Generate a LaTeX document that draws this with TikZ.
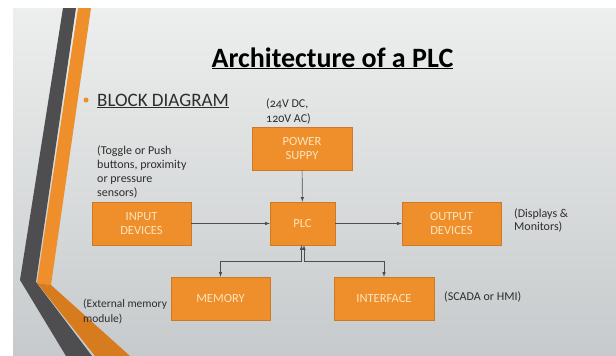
\documentclass[tikz,border=0pt]{standalone}
\usepackage{fontspec}
\setmainfont{Carlito}
\usepackage{tikz}
\definecolor{org}{RGB}{238,143,43}
\definecolor{orgdk}{RGB}{214,124,30}
\definecolor{edge}{RGB}{205,122,37}
\definecolor{cream}{RGB}{252,228,190}
\definecolor{gry}{RGB}{78,78,80}
\definecolor{bgtop}{RGB}{237,239,238}
\definecolor{bgbot}{RGB}{199,202,204}
\definecolor{txt}{RGB}{45,45,45}

\begin{document}
\begin{tikzpicture}[x=1pt,y=-1pt,
  blk/.style={draw=edge,fill=org,text=cream,minimum height=43pt,
    align=center,font=\fontsize{12.5}{14}\selectfont,inner sep=0pt},
  note/.style={text=txt,align=left,anchor=west,inner sep=0pt,
    font=\fontsize{12}{14}\selectfont\addfontfeatures{Numbers=OldStyle}},
  arr/.style={->,>=latex,draw=gry,line width=0.6pt}]
\useasboundingbox (0,0) rectangle (616,356);
\fill[white] (0,0) rectangle (616,356);
\shade[top color=bgtop,bottom color=bgbot] (13,8) rectangle (616,356);

% side stripes
\fill[gry] (63,8) -- (76,8) -- (36,282) -- (92,356) -- (66,356) -- (20,280) -- cycle;
\fill[org] (78,8) -- (91,8) -- (51,285) -- (37,283) -- cycle;
\fill[orgdk] (37,283) -- (51,285) -- (130,356) -- (95,356) -- cycle;

\coordinate (T) at (332.5,67);
\coordinate (B) at (97,106);
\coordinate (jl) at (301.5,261);
\coordinate (jr) at (304,261);

\node[anchor=base,inner sep=0pt,text=black,font=\fontsize{28}{30}\selectfont\bfseries] (title) at (T) {\underline{Architecture of a PLC}};
\fill[org] (86,100) circle (2.5);
\node[anchor=base west,inner sep=0pt,text=txt,font=\fontsize{19}{22}\selectfont] (sub) at (B) {\underline{BLOCK DIAGRAM}};

\node[blk,minimum width=100pt] (power) at (302,148.5) {POWER\\SUPPY};
\node[blk,minimum width=65pt] (plc) at (302.5,223.5) {PLC};
\node[blk,minimum width=99pt] (input) at (141.5,223.5) {INPUT\\DEVICES};
\node[blk,minimum width=99pt] (output) at (451.5,223.5) {OUTPUT\\DEVICES};
\node[blk,minimum width=99pt] (memory) at (220.5,298.5) {MEMORY};
\node[blk,minimum width=100pt] (interface) at (384,298.5) {INTERFACE};

\node[note,font=\fontsize{12}{15}\selectfont\addfontfeatures{Numbers=OldStyle}] (n1) at (266,111) {(24V DC,\\120V AC)};
\node[note] (n2) at (97,172) {(Toggle or Push\\buttons, proximity\\or pressure\\sensors)};
\node[note,font=\fontsize{12}{13.5}\selectfont] (n3) at (514,220.5) {(Displays \&\\Monitors)};
\node[note] (n4) at (444,297) {(SCADA or HMI)};
\node[note,font=\fontsize{11.5}{15}\selectfont] (n5) at (83,311.5) {(External memory\\module)};

\draw[arr] (input) -- (plc);
\draw[arr] (plc) -- (output);
\draw[arr] (power) -- (plc);
\draw[arr,<->] (memory.north) |- (jl) -- (jl |- plc.south);
\draw[arr,<->] (interface.north) |- (jr) -- (jr |- plc.south);
\end{tikzpicture}
\end{document}
